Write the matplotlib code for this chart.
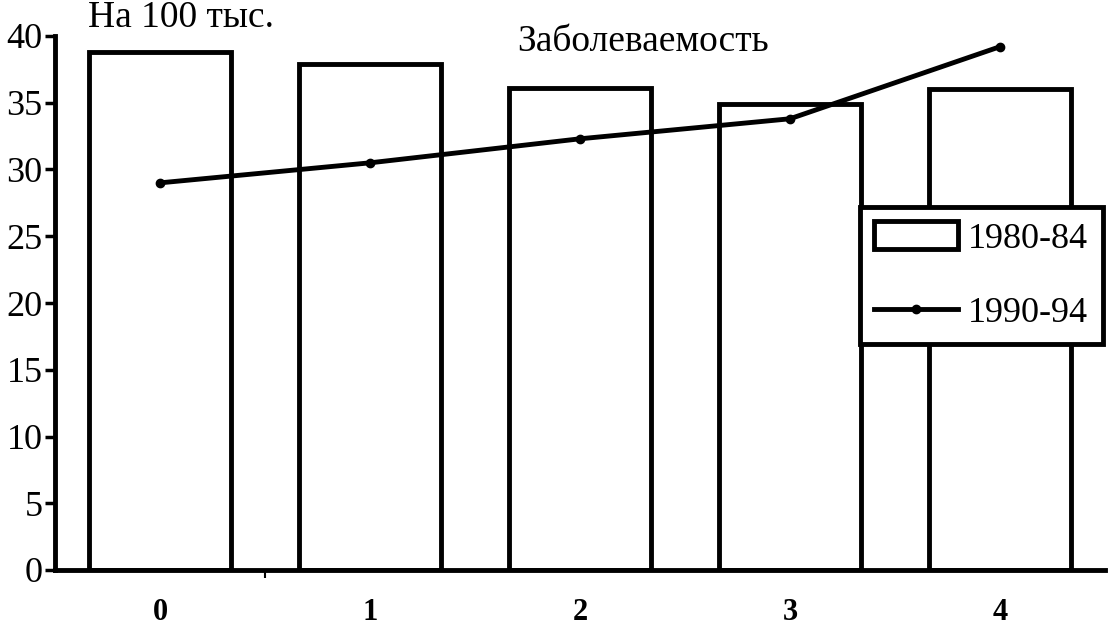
import matplotlib.pyplot as plt
import numpy as np

plt.rcParams['font.family'] = ['Liberation Serif', 'DejaVu Serif']

categories = ['0', '1', '2', '3', '4']
rate_1980 = [38.8, 37.9, 36.1, 34.9, 36.0]
rate_1990 = [29.0, 30.5, 32.3, 33.8, 39.2]
y_ticks = [0, 5, 10, 15, 20, 25, 30, 35, 40]

x = np.arange(len(categories))

fig = plt.figure(figsize=(11.12, 6.32), dpi=100)
ax = fig.add_axes([55 / 1112, 62 / 632, 1050 / 1112, 534 / 632])

bars = ax.bar(x, rate_1980, width=0.68, facecolor='white', edgecolor='black',
              linewidth=3.5, label='1980-84', zorder=2)
line, = ax.plot(x, rate_1990, color='black', linewidth=3.5, marker='o', markersize=6,
                label='1990-94', zorder=3)

ax.set_xlim(-0.5, 4.5)
ax.set_ylim(0, 40)
ax.set_yticks(y_ticks)
ax.set_xticks(x)
ax.set_xticklabels(categories)
ax.set_xticks([0.5], minor=True)

for s in ['top', 'right']:
    ax.spines[s].set_visible(False)
for s in ['left', 'bottom']:
    ax.spines[s].set_linewidth(3.5)

ax.tick_params(axis='y', labelsize=26, length=7, width=2.5, pad=2)
ax.tick_params(axis='x', which='major', labelsize=22, length=0, pad=20)
ax.tick_params(axis='x', which='minor', length=6, width=1.5)
for lab in ax.get_xticklabels():
    lab.set_fontweight('bold')

fig.text(88 / 1112, 1 - 18 / 632, 'На 100 тыс.', fontsize=27, va='center', ha='left')
fig.text(643 / 1112, 1 - 42 / 632, 'Заболеваемость', fontsize=27, va='center', ha='center')

leg = fig.legend([bars, line], ['1980-84', '1990-94'],
                 loc='upper left', bbox_to_anchor=(860 / 1112, 1 - 207 / 632),
                 fontsize=26, frameon=True, fancybox=False, edgecolor='black',
                 handlelength=2.3, handleheight=0.8, borderpad=0.4,
                 labelspacing=1.1, handletextpad=0.3, borderaxespad=0)
leg.get_frame().set_linewidth(3.5)
leg.get_frame().set_alpha(1)

fig.savefig('out.png', dpi=100, facecolor='white')
